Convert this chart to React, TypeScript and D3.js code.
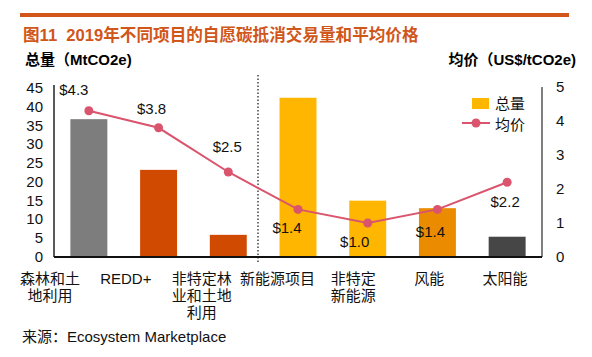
import React from "react";
import * as d3 from "d3";

const categories = ["森林和土地利用", "REDD+", "非特定林业和土地利用", "新能源项目", "非特定新能源", "风能", "太阳能"];
const categoryLines = [["森林和土", "地利用"], ["REDD+"], ["非特定林", "业和土地", "利用"], ["新能源项目"], ["非特定", "新能源"], ["风能"], ["太阳能"]];
const volumes = [36.7, 23.2, 5.9, 42.4, 15.0, 13.0, 5.4];
const prices = [4.3, 3.8, 2.5, 1.4, 1.0, 1.4, 2.2];
const priceLabels = ["$4.3", "$3.8", "$2.5", "$1.4", "$1.0", "$1.4", "$2.2"];
const barColors = ["#7D7D7D", "#D04A02", "#D04A02", "#FFB600", "#FFB600", "#EB8C00", "#464646"];
const leftTicks = [0, 5, 10, 15, 20, 25, 30, 35, 40, 45];
const rightTicks = [0, 1, 2, 3, 4, 5];
// layout: label offsets relative to each point [dx, dy]
const labelOffsets = [[-15, -16], [-7, -14], [-1, -20], [-11, 24], [-13, 24], [-7, 28], [-2, 25]];

const FONT = "'Liberation Sans', Arial, 'Noto Sans CJK SC', sans-serif";

export default function App() {
  const W = 592, H = 357;
  const x0 = 54, x1 = 542, yTop = 88, yBot = 257;
  const x = d3.scaleBand<string>().domain(categories).range([x0, x1]).paddingInner(0.47).paddingOuter(0.235);
  const yL = d3.scaleLinear().domain([0, 45]).range([yBot, yTop]);
  const yR = d3.scaleLinear().domain([0, 5]).range([yBot, 87]);
  const xl = d3.scalePoint<string>().domain(categories).range([50, 505]);
  const cx = (c: string) => (x(c) as number) + x.bandwidth() / 2;
  const line = d3.line<number>().x((_, i) => cx(categories[i])).y((d) => yR(d));
  const lineColor = "#D9546C";

  return (
    <svg width={W} height={H} style={{ position: "fixed", left: 0, top: 0, background: "#fff" }} fontFamily={FONT}>
      <rect x={20} y={13} width={549} height={4} fill="#D0561A" />
      <text x={23} y={41} fontSize={16.6} fontWeight="bold" fill="#D0561A">{"图11\u00A0\u00A02019年不同项目的自愿碳抵消交易量和平均价格"}</text>
      <text x={25} y={65} fontSize={15} fontWeight="bold" fill="#000">总量（MtCO2e)</text>
      <text x={576} y={65} fontSize={15} fontWeight="bold" fill="#000" textAnchor="end">均价（US$/tCO2e)</text>

      {/* bars */}
      {categories.map((c, i) => (
        <rect key={c} x={x(c)} y={yL(volumes[i])} width={x.bandwidth()} height={yBot - yL(volumes[i])} fill={barColors[i]} />
      ))}

      {/* separator */}
      <line x1={258} x2={258} y1={75} y2={263} stroke="#444" strokeWidth={1.5} strokeDasharray="1.5 2" />

      {/* axes */}
      <line x1={x0} x2={x0} y1={85} y2={yBot} stroke="#222" strokeWidth={1.5} />
      <line x1={x1} x2={x1} y1={87} y2={yBot} stroke="#555" strokeWidth={1.5} />
      <line x1={x0} x2={x1} y1={yBot} y2={yBot} stroke="#111" strokeWidth={2} />
      {leftTicks.map((t) => (
        <text key={t} x={43} y={yL(t) + 5} fontSize={15} textAnchor="end" fill="#111">{t}</text>
      ))}
      {rightTicks.map((t) => (
        <text key={t} x={556} y={yR(t) + 5} fontSize={15} fill="#111">{t}</text>
      ))}

      {/* price line */}
      <path d={line(prices) || ""} fill="none" stroke={lineColor} strokeWidth={2} />
      {prices.map((p, i) => (
        <circle key={i} cx={cx(categories[i])} cy={yR(p)} r={4.5} fill={lineColor} />
      ))}
      {prices.map((p, i) => (
        <text key={"l" + i} x={cx(categories[i]) + labelOffsets[i][0]} y={yR(p) + labelOffsets[i][1]} fontSize={15} textAnchor="middle" fill="#111">{priceLabels[i]}</text>
      ))}

      {/* category labels */}
      {categories.map((c, i) => (
        <text key={"c" + i} x={xl(c)} y={284} fontSize={15} textAnchor="middle" fill="#111">
          {categoryLines[i].map((ln, j) => (
            <tspan key={j} x={xl(c)} dy={j === 0 ? 0 : 17}>{ln}</tspan>
          ))}
        </text>
      ))}

      {/* legend */}
      <rect x={472} y={98} width={17} height={11} fill="#FFB600" />
      <text x={495} y={109} fontSize={15} fill="#111">总量</text>
      <line x1={462} x2={490} y1={123} y2={123} stroke={lineColor} strokeWidth={2} />
      <circle cx={476} cy={123} r={4.5} fill={lineColor} />
      <text x={495} y={130} fontSize={15} fill="#111">均价</text>

      <text x={22} y={342} fontSize={15} fill="#111">来源：Ecosystem Marketplace</text>
    </svg>
  );
}
